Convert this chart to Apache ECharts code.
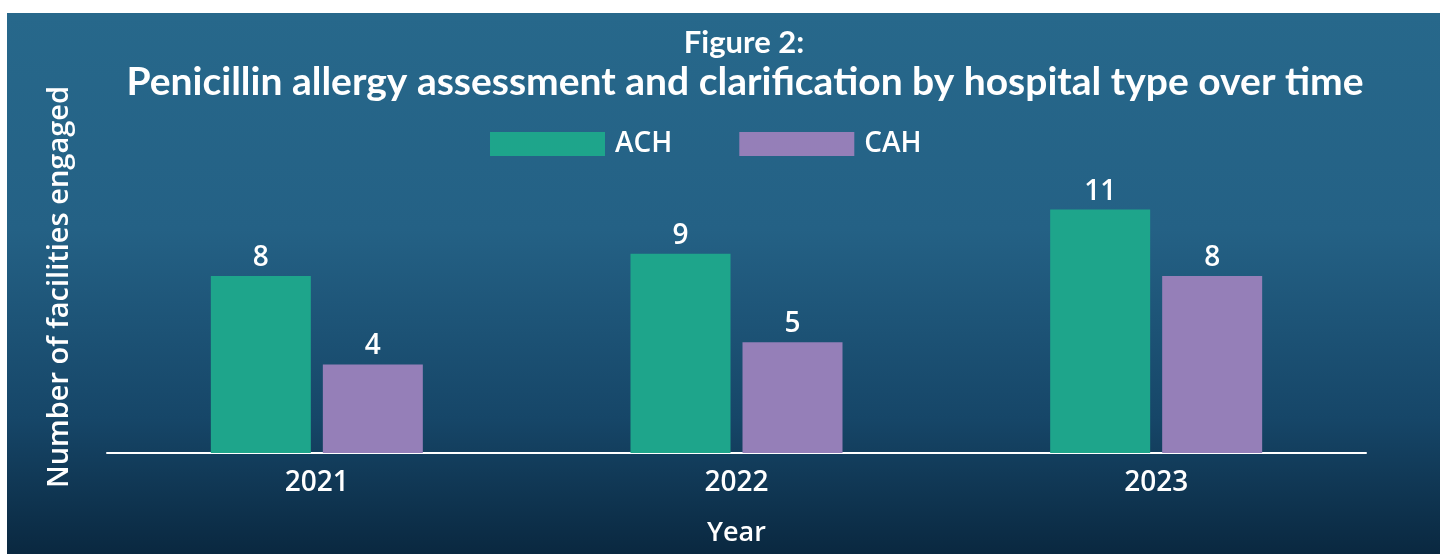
<!DOCTYPE html>
<html>
<head>
<meta charset="utf-8">
<script src="https://cdn.jsdelivr.net/npm/echarts@6/dist/echarts.min.js"></script>
<style>
  html, body { margin: 0; padding: 0; background: #ffffff; }
  #chart { position: absolute; left: 7px; top: 13px; width: 1433px; height: 541px; }
</style>
</head>
<body>
<div id="chart"></div>
<script>
// Facilities engaged in penicillin allergy assessment, by hospital type
const years = ['2021', '2022', '2023'];
const achValues = [8, 9, 11];
const cahValues = [4, 5, 8];
const seriesNames = ['ACH', 'CAH'];

const FONT = '"Open Sans", "Noto Sans", sans-serif';
const TITLE_FONT = 'Lato, "Open Sans", sans-serif';
const WHITE = '#ffffff';

const chart = echarts.init(document.getElementById('chart'));

const barLabel = {
  show: true, position: 'top', distance: 4,
  color: WHITE, fontSize: 28, fontWeight: 600, fontFamily: FONT
};

chart.setOption({
  backgroundColor: {
    type: 'linear', x: 0, y: 0, x2: 0, y2: 1,
    colorStops: [
      { offset: 0, color: '#27688b' },
      { offset: 0.4, color: '#246185' },
      { offset: 0.75, color: '#164668' },
      { offset: 1, color: '#0a2840' }
    ]
  },
  textStyle: { fontFamily: FONT },
  title: [
    {
      text: 'Figure 2:',
      left: 732, top: 9, textAlign: 'center',
      textStyle: { color: WHITE, fontSize: 31, fontWeight: 700, fontFamily: TITLE_FONT }
    },
    {
      text: 'Penicillin allergy assessment and clarification by hospital type over time',
      left: 733, top: 45, textAlign: 'center',
      textStyle: { color: WHITE, fontSize: 39, fontWeight: 700, fontFamily: TITLE_FONT }
    }
  ],
  legend: {
    data: seriesNames,
    left: 478, top: 112,
    itemWidth: 115, itemHeight: 24, itemGap: 67,
    icon: 'rect',
    textStyle: { color: WHITE, fontSize: 28, fontWeight: 600, fontFamily: FONT, padding: [0, 0, 0, 5] }
  },
  grid: { left: 100, right: 74, top: 108, bottom: 101, containLabel: false },
  xAxis: {
    type: 'category',
    data: years,
    name: 'Year',
    nameLocation: 'middle',
    nameGap: 67,
    nameTextStyle: { color: WHITE, fontSize: 27, fontWeight: 600, fontFamily: FONT },
    axisLine: { show: true, lineStyle: { color: WHITE, width: 2 } },
    axisTick: { show: false },
    axisLabel: { color: WHITE, fontSize: 28, fontWeight: 600, fontFamily: FONT, margin: 16 }
  },
  yAxis: {
    type: 'value',
    min: 0, max: 15,
    name: 'Number of facilities engaged',
    nameLocation: 'middle',
    nameGap: 33,
    nameRotate: 90,
    nameTextStyle: { color: WHITE, fontSize: 29, fontWeight: 600, fontFamily: FONT },
    axisLine: { show: false },
    axisTick: { show: false },
    axisLabel: { show: false },
    splitLine: { show: false }
  },
  series: [
    {
      name: 'ACH', type: 'bar', data: achValues,
      barWidth: 100, barGap: '12%',
      itemStyle: { color: '#1ea58b' },
      label: barLabel
    },
    {
      name: 'CAH', type: 'bar', data: cahValues,
      barWidth: 100,
      itemStyle: { color: '#957fb8' },
      label: barLabel
    }
  ]
});
</script>
</body>
</html>
